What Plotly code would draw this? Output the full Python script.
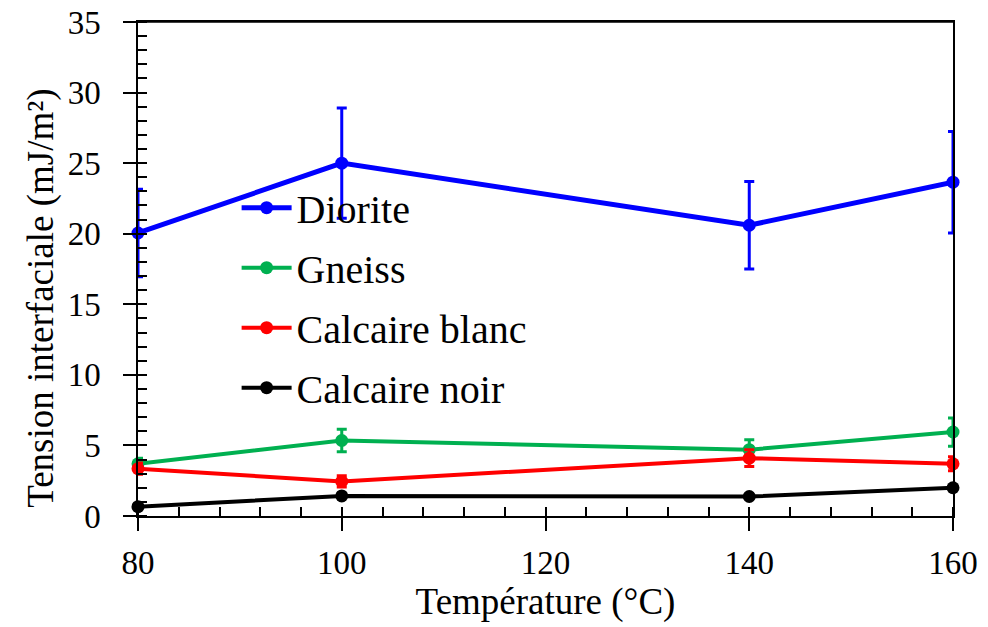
import plotly.graph_objects as go

temperature = [80, 100, 140, 160]
diorite = [20.05, 25.0, 20.6, 23.65]
diorite_err = [3.1, 3.9, 3.1, 3.6]
gneiss = [3.7, 5.35, 4.7, 5.95]
gneiss_err = [0.4, 0.8, 0.7, 1.0]
calc_blanc = [3.35, 2.45, 4.1, 3.7]
calc_blanc_err = [0.4, 0.4, 0.6, 0.5]
calc_noir = [0.66, 1.42, 1.38, 2.0]
calc_noir_err = [0.1, 0.1, 0.1, 0.1]

series = [
    ("Diorite", diorite, diorite_err, "#0000FF", 5),
    ("Gneiss", gneiss, gneiss_err, "#00B050", 4),
    ("Calcaire blanc", calc_blanc, calc_blanc_err, "#FF0000", 4),
    ("Calcaire noir", calc_noir, calc_noir_err, "#000000", 4),
]

FONT = "Liberation Serif"
fig = go.Figure()
for name, vals, err, col, lw in series:
    fig.add_trace(go.Scatter(
        x=temperature, y=vals, name=name, mode="lines+markers",
        legendgroup=name,
        line=dict(color=col, width=lw),
        marker=dict(color=col, size=13),
        error_y=dict(type="data", array=err, visible=True, color=col,
                     thickness=3, width=5),
        cliponaxis=False,
    ))

# helper trace for crossing tick marks
fig.add_trace(go.Scatter(x=[None], y=[None], xaxis="x2", yaxis="y2",
                         showlegend=False, hoverinfo="skip"))

axis_common = dict(showgrid=False, zeroline=False, linecolor="#000", linewidth=1.5,
                   tickcolor="#000", tickwidth=1.5, ticklabeloverflow="allow",
                   automargin=False,
                   tickfont=dict(family=FONT, size=33, color="#000"))

fig.update_layout(
    width=988, height=627,
    margin=dict(l=130, r=43, t=14, b=119),
    paper_bgcolor="white", plot_bgcolor="white",
    xaxis=dict(range=[80, 160], dtick=20, tick0=80, ticks="outside", ticklen=13,
               showline=True, mirror=True, ticklabelstandoff=4,
               minor=dict(dtick=4, ticks="inside", ticklen=9, tickcolor="#000", tickwidth=1.5),
               title=dict(text="Température (°C)", font=dict(family=FONT, size=37, color="#000"), standoff=4),
               **axis_common),
    yaxis=dict(range=[0, 35], dtick=5, tick0=0, ticks="outside", ticklen=13,
               showline=True, mirror=True, ticklabelstandoff=16,
               minor=dict(dtick=1, ticks="inside", ticklen=9, tickcolor="#000", tickwidth=1.5),
               **axis_common),
    xaxis2=dict(range=[80, 160], dtick=20, tick0=80, ticks="inside", ticklen=9,
                overlaying="x", showticklabels=False, showline=False, showgrid=False,
                zeroline=False, tickcolor="#000", tickwidth=1.5, anchor="y2",
                automargin=False),
    yaxis2=dict(range=[0, 35], dtick=5, tick0=0, ticks="inside", ticklen=9,
                overlaying="y", showticklabels=False, showline=False, showgrid=False,
                zeroline=False, tickcolor="#000", tickwidth=1.5, anchor="x2",
                automargin=False),
    shapes=[dict(type="line", xref="paper", yref="paper", x0=0, x1=1, y0=1, y1=1,
                 line=dict(color="#000", width=1.5), layer="above")],
    legend=dict(x=0.121, y=0.69, xanchor="left", yanchor="top",
                bgcolor="rgba(0,0,0,0)", font=dict(family=FONT, size=40, color="#000"),
                itemwidth=50, tracegroupgap=5),
    annotations=[dict(text="Tension interfaciale (mJ/m²)", textangle=-90,
                      xref="paper", yref="paper", x=-0.12, y=0.44,
                      xanchor="center", yanchor="middle", showarrow=False,
                      font=dict(family=FONT, size=37, color="#000"))],
)

fig.write_html("out.html")
